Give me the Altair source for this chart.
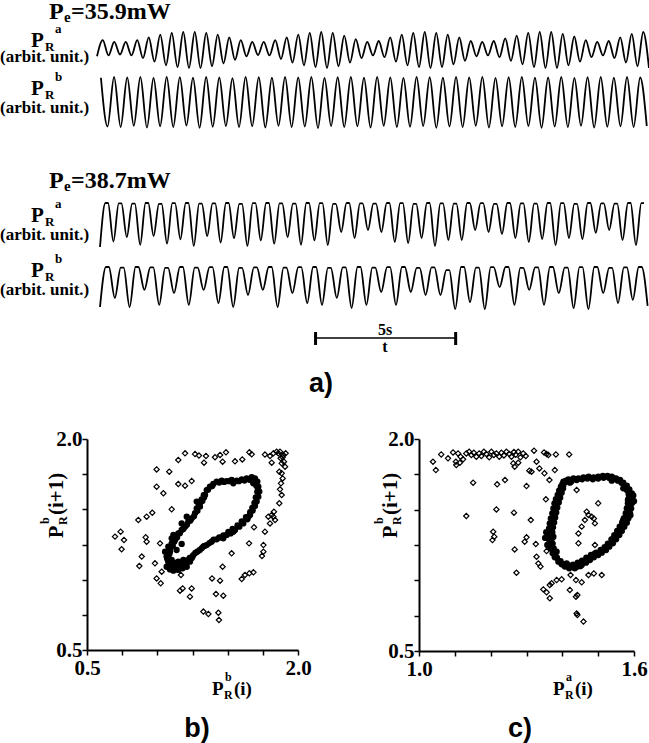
import altair as alt
import pandas as pd

SERIF = "'Liberation Serif', 'Times New Roman', Times, serif"
SANS = "'Liberation Sans', Arial, sans-serif"

# ---------------- time traces (arbitrary units, extrema in order) ----------------
T_END = 19.7  # seconds shown across the trace panel

a359_trough = [-0.35, -0.3, -0.25, -0.3, -0.45, -0.65, -0.85, -0.95, -1.0, -1.0,
               -0.9, -0.75, -0.55, -0.35, -0.28, -0.3, -0.5, -0.7, -0.85, -0.95,
               -1.0, -0.9, -0.7, -0.45, -0.3, -0.4, -0.65, -0.85, -0.95, -1.0,
               -0.95, -0.8, -0.6, -0.35, -0.3, -0.4, -0.6, -0.8, -0.95, -1.0,
               -1.0, -0.85, -0.65, -0.4, -0.3, -0.45, -0.7, -0.9, -1.0]
a359_peak = [0.55, 0.45, 0.45, 0.55, 0.7, 0.85, 0.95, 1.0, 1.0, 0.95,
             0.85, 0.7, 0.55, 0.45, 0.45, 0.55, 0.7, 0.85, 0.95, 1.0,
             0.95, 0.8, 0.6, 0.45, 0.5, 0.7, 0.85, 0.95, 1.0, 0.95,
             0.85, 0.7, 0.5, 0.45, 0.5, 0.65, 0.8, 0.95, 1.0, 1.0,
             0.9, 0.75, 0.55, 0.45, 0.5, 0.7, 0.9, 1.0]

b359_peak = [0.97, 1.0, 0.98, 1.0, 0.96, 1.0, 0.99, 0.97, 1.0, 0.98,
             0.95, 1.0, 0.99, 0.97, 1.0, 0.98, 1.0, 0.96, 0.99, 1.0,
             0.97, 1.0, 0.98, 0.96, 1.0, 0.99, 0.97, 1.0, 0.98, 1.0,
             0.96, 0.99, 1.0, 0.97, 0.98, 1.0, 0.96, 0.99, 1.0, 0.97,
             1.0, 0.98]
b359_trough = [-0.98, -1.0, -0.95, -1.02, -0.97, -1.0, -0.94, -1.03, -0.99, -0.96,
               -1.0, -0.97, -1.02, -0.95, -1.0, -0.98, -1.04, -0.96, -1.0, -0.97,
               -1.02, -0.95, -1.0, -0.99, -0.96, -1.03, -0.98, -1.0, -0.95, -1.02,
               -0.97, -1.0, -0.96, -1.03, -0.98, -1.0, -0.95, -1.02, -0.99, -0.97,
               -1.0, -0.96]

a387_trough = [-1.0, -0.75, -0.55, -0.9, -0.5, -0.85, -0.65, -0.95, -0.5, -0.8,
               -0.6, -0.95, -0.7, -0.85, -0.55, -0.9, -0.7,
               -0.91, -0.32, -0.59, -0.23, -0.32, -0.77, -0.82, -0.59, -0.95, -0.68,
               -0.68, -0.23, -0.32, -0.41, -0.59, -0.77, -0.64, -0.91, -0.59, -0.64,
               -0.36, -0.23, -0.68, -0.91]
a387_peak = [1.0, 0.98, 0.97, 1.0, 0.96, 0.99, 1.0, 0.97, 0.98, 1.0,
             0.96, 0.99, 1.0, 0.98, 0.97, 1.0, 0.99, 0.96, 1.0, 0.98,
             0.97, 1.0, 0.99, 0.96, 1.0, 0.98, 0.97, 1.0, 0.99, 0.96,
             1.0, 0.98, 0.97, 1.0, 0.99, 0.96, 1.0, 0.98, 0.97, 1.0, 0.99]

b387_trough = [-0.95, -0.51, -0.95, -0.12, -0.85, -0.27, -0.85, -0.12, -0.76, -0.95,
               -0.37, -0.12, -0.95, -0.27, -0.76,
               -0.85, -0.51, -1.0, -0.85, -0.22, -0.85, -0.22, -0.37, -0.37, -1.05,
               -0.71, -1.05, 0.02, -0.85, -0.12, -0.85, -0.27, -1.0, -1.05, -0.27,
               -0.76, -0.6, -0.9]
b387_peak = [1.0, 0.97, 1.0, 0.98, 0.96, 1.0, 0.97, 0.99, 1.0, 0.96,
             0.98, 1.0, 0.97, 0.99, 1.0, 0.96, 0.98, 1.0, 0.97, 0.99,
             1.0, 0.96, 0.98, 0.85, 1.0, 0.97, 0.99, 1.0, 0.96, 0.98,
             1.0, 0.97, 0.99, 1.0, 0.96, 0.98, 1.0]

# sampling (start time, half period / period) in seconds
a359_t0, a359_dt = 0.0, 0.2052
b359_t0, b359_dt = 0.14, 0.2347
a387_t0, a387_period = 0.107, 0.4782
b387_t0, b387_period = 0.107, 0.5282
top_start, top_end = 0.4, 0.6  # top part of each 38.7 mW cycle (fraction of period)

bar_start, bar_len = 7.8, 5.0  # "5s" time bar

# ---------------- return maps ----------------
b_loop = [(1.066, 1.092), (1.090, 1.073), (1.114, 1.064), (1.149, 1.069), (1.180, 1.081),
          (1.209, 1.092), (1.232, 1.128), (1.197, 1.116), (1.161, 1.104), (1.126, 1.092),
          (1.078, 1.128), (1.066, 1.164), (1.055, 1.199), (1.078, 1.235), (1.102, 1.258),
          (1.126, 1.282), (1.114, 1.318), (1.149, 1.329), (1.173, 1.353), (1.197, 1.377),
          (1.220, 1.412), (1.244, 1.436), (1.268, 1.472), (1.280, 1.507), (1.303, 1.543),
          (1.315, 1.571), (1.339, 1.602), (1.351, 1.637), (1.374, 1.661), (1.398, 1.680),
          (1.422, 1.697), (1.457, 1.704), (1.493, 1.701), (1.528, 1.709), (1.564, 1.704),
          (1.600, 1.713), (1.635, 1.720), (1.671, 1.728), (1.694, 1.720), (1.711, 1.697),
          (1.718, 1.661), (1.725, 1.626), (1.718, 1.590), (1.706, 1.555), (1.694, 1.524),
          (1.678, 1.491), (1.659, 1.460), (1.640, 1.429), (1.611, 1.400), (1.583, 1.377),
          (1.552, 1.353), (1.521, 1.329), (1.493, 1.318), (1.457, 1.301), (1.422, 1.287),
          (1.386, 1.270), (1.351, 1.246), (1.315, 1.223), (1.284, 1.199), (1.256, 1.175),
          (1.244, 1.152), (1.220, 1.140), (1.185, 1.140), (1.149, 1.128), (1.102, 1.140),
          (1.090, 1.199), (1.137, 1.211), (1.173, 1.254), (1.102, 1.294), (1.303, 1.519),
          (1.332, 1.585), (1.540, 1.341), (1.647, 1.448), (1.280, 1.555), (1.209, 1.448),
          (1.173, 1.400), (1.682, 1.685), (1.540, 1.685), (1.469, 1.294), (1.327, 1.235),
          (1.080, 1.100), (1.100, 1.090), (1.130, 1.080), (1.160, 1.085), (1.190, 1.100),
          (1.070, 1.150), (1.085, 1.180), (1.090, 1.220), (1.110, 1.240), (1.120, 1.270),
          (1.140, 1.300), (1.160, 1.330), (1.185, 1.360), (1.210, 1.390), (1.235, 1.420),
          (1.260, 1.450), (1.285, 1.490), (1.295, 1.530), (1.320, 1.560), (1.330, 1.600),
          (1.360, 1.640), (1.390, 1.665), (1.440, 1.690), (1.475, 1.695), (1.510, 1.700),
          (1.580, 1.700), (1.620, 1.705), (1.655, 1.710), (1.700, 1.700), (1.705, 1.665),
          (1.710, 1.625), (1.700, 1.585), (1.690, 1.545), (1.675, 1.510), (1.660, 1.480),
          (1.630, 1.445), (1.600, 1.415), (1.570, 1.385), (1.535, 1.360), (1.505, 1.340),
          (1.470, 1.315), (1.440, 1.300), (1.400, 1.285), (1.370, 1.260), (1.335, 1.240),
          (1.300, 1.210), (1.270, 1.190), (1.250, 1.165), (1.230, 1.155), (1.200, 1.130),
          (1.170, 1.120), (1.140, 1.115), (1.120, 1.120), (1.090, 1.110), (1.075, 1.140)]
b_open = [(0.699, 1.306), (0.739, 1.341), (0.763, 1.282), (0.746, 1.216), (0.865, 1.424),
          (0.924, 1.448), (0.964, 1.476), (0.917, 1.301), (0.924, 1.270), (0.889, 1.164),
          (0.872, 1.097), (0.995, 1.784), (0.995, 1.661), (1.043, 1.614), (1.085, 1.768),
          (1.102, 1.500), (1.149, 1.851), (1.149, 1.680), (1.197, 1.668), (1.244, 1.701),
          (1.197, 1.898), (1.268, 1.893), (1.296, 1.882), (1.332, 1.832), (1.410, 1.870),
          (1.446, 1.886), (1.488, 1.905), (1.464, 1.839), (1.552, 1.841), (1.604, 1.855),
          (1.654, 1.905), (1.671, 1.891), (1.765, 1.889), (1.813, 1.832), (1.825, 1.898),
          (1.872, 1.910), (1.896, 1.886), (1.908, 1.803), (1.884, 1.756), (1.879, 1.685),
          (1.872, 1.642), (1.867, 1.543), (1.829, 1.483), (1.813, 1.460), (1.789, 1.448),
          (1.837, 1.424), (1.801, 1.400), (1.687, 1.372), (1.765, 1.341), (1.754, 1.246),
          (1.754, 1.199), (1.744, 1.168), (1.652, 1.258), (1.528, 1.187), (1.464, 1.092),
          (1.600, 1.005), (1.623, 1.033), (1.654, 1.045), (1.683, 1.052), (1.389, 1.009),
          (1.446, 0.993), (1.180, 0.938), (1.161, 0.922), (1.244, 0.938), (1.232, 0.879),
          (1.417, 0.898), (1.469, 0.886), (1.327, 0.773), (1.363, 0.756), (1.434, 0.765),
          (1.438, 0.713), (0.995, 1.009), (1.024, 0.974), (1.031, 1.057), (0.983, 1.116),
          (1.019, 1.258), (1.168, 1.033), (1.860, 1.898), (1.891, 1.870), (1.900, 1.839),
          (1.884, 1.827), (1.867, 1.768), (1.891, 1.720), (1.884, 1.602), (1.825, 1.448),
          (1.848, 1.910), (1.912, 1.898), (1.877, 1.863), (1.801, 1.879), (1.346, 1.879)]

c_loop = [(1.403, 1.698), (1.417, 1.714), (1.431, 1.721), (1.445, 1.721), (1.459, 1.729),
          (1.473, 1.733), (1.487, 1.729), (1.500, 1.733), (1.513, 1.738), (1.526, 1.738),
          (1.538, 1.733), (1.550, 1.721), (1.561, 1.710), (1.570, 1.691), (1.580, 1.670),
          (1.587, 1.644), (1.594, 1.615), (1.595, 1.580), (1.594, 1.545), (1.592, 1.509),
          (1.589, 1.474), (1.584, 1.438), (1.580, 1.408), (1.573, 1.380), (1.566, 1.349),
          (1.559, 1.321), (1.550, 1.290), (1.541, 1.262), (1.531, 1.238), (1.522, 1.214),
          (1.510, 1.196), (1.500, 1.179), (1.488, 1.163), (1.477, 1.144), (1.466, 1.125),
          (1.454, 1.108), (1.442, 1.097), (1.431, 1.090), (1.419, 1.085), (1.407, 1.097),
          (1.398, 1.113), (1.389, 1.132), (1.379, 1.163), (1.373, 1.191), (1.367, 1.226),
          (1.363, 1.262), (1.361, 1.297), (1.361, 1.332), (1.363, 1.368), (1.365, 1.403),
          (1.368, 1.438), (1.372, 1.474), (1.375, 1.509), (1.378, 1.545), (1.382, 1.575),
          (1.387, 1.604), (1.391, 1.634), (1.396, 1.662), (1.400, 1.681), (1.421, 1.691),
          (1.538, 1.705), (1.570, 1.651), (1.583, 1.568), (1.570, 1.427), (1.542, 1.297),
          (1.491, 1.191), (1.445, 1.120), (1.412, 1.120), (1.384, 1.203), (1.375, 1.309),
          (1.379, 1.450), (1.389, 1.568), (1.403, 1.674), (1.425, 1.095), (1.435, 1.085),
          (1.450, 1.100),
          (1.410, 1.705), (1.425, 1.700), (1.440, 1.710), (1.455, 1.715), (1.470, 1.720),
          (1.485, 1.715), (1.500, 1.720), (1.515, 1.725), (1.530, 1.725), (1.545, 1.720),
          (1.555, 1.705), (1.565, 1.690), (1.575, 1.665), (1.580, 1.640), (1.585, 1.610),
          (1.585, 1.580), (1.583, 1.545), (1.580, 1.510), (1.577, 1.475), (1.572, 1.440),
          (1.567, 1.410), (1.560, 1.380), (1.553, 1.350), (1.545, 1.320), (1.537, 1.290),
          (1.527, 1.260), (1.518, 1.235), (1.507, 1.215), (1.495, 1.195), (1.480, 1.180),
          (1.467, 1.160), (1.455, 1.140), (1.443, 1.125), (1.430, 1.110), (1.418, 1.105),
          (1.405, 1.115), (1.395, 1.135), (1.385, 1.160), (1.380, 1.190), (1.376, 1.225),
          (1.373, 1.260), (1.372, 1.300), (1.372, 1.340), (1.374, 1.375), (1.377, 1.410),
          (1.380, 1.445), (1.383, 1.480), (1.386, 1.515), (1.390, 1.550), (1.394, 1.585),
          (1.398, 1.620), (1.402, 1.650), (1.352, 1.300), (1.355, 1.340), (1.358, 1.250),
          (1.600, 1.560), (1.598, 1.600), (1.590, 1.460)]
c_open = [(1.039, 1.839), (1.047, 1.780), (1.062, 1.891), (1.081, 1.863), (1.095, 1.905),
          (1.103, 1.839), (1.109, 1.898), (1.116, 1.875), (1.123, 1.856), (1.132, 1.898),
          (1.140, 1.910), (1.146, 1.887), (1.153, 1.903), (1.160, 1.875), (1.168, 1.898),
          (1.174, 1.880), (1.181, 1.910), (1.188, 1.894), (1.196, 1.870), (1.202, 1.910),
          (1.209, 1.887), (1.216, 1.898), (1.224, 1.875), (1.230, 1.903), (1.237, 1.884),
          (1.244, 1.910), (1.252, 1.894), (1.258, 1.875), (1.265, 1.908), (1.270, 1.889),
          (1.277, 1.910), (1.283, 1.870), (1.291, 1.898), (1.298, 1.880), (1.321, 1.917),
          (1.349, 1.905), (1.356, 1.894), (1.361, 1.887), (1.382, 1.891), (1.419, 1.891),
          (1.104, 1.816), (1.114, 1.832), (1.267, 1.804), (1.263, 1.828), (1.277, 1.832),
          (1.328, 1.839), (1.308, 1.776), (1.314, 1.769), (1.336, 1.792), (1.350, 1.757),
          (1.364, 1.710), (1.379, 1.780), (1.151, 1.691), (1.218, 1.679), (1.240, 1.710),
          (1.300, 1.667), (1.354, 1.573), (1.412, 1.698), (1.500, 1.545), (1.132, 1.455),
          (1.216, 1.502), (1.265, 1.479), (1.312, 1.427), (1.207, 1.344), (1.210, 1.309),
          (1.205, 1.285), (1.267, 1.219), (1.295, 1.273), (1.300, 1.304), (1.326, 1.257),
          (1.328, 1.167), (1.333, 1.120), (1.339, 1.097), (1.272, 1.054), (1.356, 1.207),
          (1.440, 1.639), (1.468, 1.486), (1.473, 1.462), (1.482, 1.450), (1.488, 1.438),
          (1.491, 1.403), (1.454, 1.380), (1.445, 1.332), (1.463, 1.427), (1.445, 1.262),
          (1.491, 1.250), (1.473, 1.038), (1.488, 1.049), (1.510, 1.038), (1.423, 1.038),
          (1.438, 1.002), (1.454, 0.986), (1.384, 1.002), (1.398, 1.007), (1.370, 0.979),
          (1.365, 0.967), (1.347, 0.936), (1.356, 0.915), (1.365, 0.873), (1.421, 0.932),
          (1.438, 0.884), (1.442, 0.896), (1.440, 0.766), (1.442, 0.755), (1.459, 0.708)]

b_x_ticks = [0.5, 0.75, 1.0, 1.25, 1.5, 1.75, 2.0]
y_ticks = [0.5, 0.75, 1.0, 1.25, 1.5, 1.75, 2.0]
c_x_ticks = [1.0, 1.1, 1.2, 1.3, 1.4, 1.5, 1.6]


# ---------------- helpers ----------------
def alternate(first, second):
    out = []
    for i in range(max(len(first), len(second))):
        if i < len(first):
            out.append(first[i])
        if i < len(second):
            out.append(second[i])
    return out


def time_scale():
    return alt.Scale(domain=[0, T_END], range=[97, 649], nice=False, zero=False)


def line_chart(ts, vs, y_top, y_bot):
    df = pd.DataFrame({"t": ts, "v": vs})
    return alt.Chart(df).mark_line(color="black", strokeWidth=1.8, interpolate="monotone").encode(
        x=alt.X("t:Q", scale=time_scale(), axis=None),
        y=alt.Y("v:Q", scale=alt.Scale(domain=[-1, 1], range=[y_bot, y_top], nice=False, zero=False), axis=None),
    )


def trace(values, t0, dt, y_top, y_bot):
    return line_chart([t0 + i * dt for i in range(len(values))], values, y_top, y_bot)


def dip_trace(troughs, peaks, t0, period, y_top, y_bot):
    ts, vs = [], []
    for i, tr in enumerate(troughs):
        t = t0 + i * period
        ts.append(t)
        vs.append(tr)
        if i < len(peaks):
            ts += [t + top_start * period, t + top_end * period]
            vs += [peaks[i], peaks[i]]
    return line_chart(ts, vs, y_top, y_bot)


_one = pd.DataFrame({"k": [0]})


def txt(s, x, y, size, font=SERIF, weight="bold", align="left", baseline="alphabetic", angle=0):
    return alt.Chart(_one).mark_text(
        text=s, font=font, fontSize=size, fontWeight=weight, align=align,
        baseline=baseline, angle=angle, color="black"
    ).encode(x=alt.value(x), y=alt.value(y))


AX = dict(title=None, grid=False, domainColor="black", domainWidth=2, tickColor="black",
          tickWidth=1.5, tickSize=5, labelFont=SERIF, labelFontWeight="bold", labelFontSize=21,
          labelColor="black", labelFlush=False, labelOverlap=False, labelBound=False)


def scatter(loop, opn, xdom, xrange, yrange, xticks, xoff, yoff, xexpr):
    xs = alt.Scale(domain=xdom, range=xrange, nice=False, zero=False)
    ys = alt.Scale(domain=[0.5, 2.0], range=yrange, nice=False, zero=False)
    loop_df = pd.DataFrame(loop, columns=["x", "y"])
    open_df = pd.DataFrame(opn, columns=["x", "y"])
    filled = alt.Chart(loop_df).mark_circle(size=40, color="black", opacity=1).encode(
        x=alt.X("x:Q", scale=xs,
                axis=alt.Axis(orient="bottom", offset=yoff, values=xticks, labelExpr=xexpr,
                              labelPadding=2, **AX)),
        y=alt.Y("y:Q", scale=ys,
                axis=alt.Axis(orient="left", offset=xoff, values=y_ticks,
                              labelExpr="datum.value == 0.5 || datum.value == 2 ? format(datum.value, '.1f') : ''",
                              labelPadding=0, **AX)),
    )
    hollow = alt.Chart(open_df).mark_point(shape="diamond", filled=False, size=28, color="black",
                                           strokeWidth=1.2, opacity=1).encode(
        x=alt.X("x:Q", scale=xs, axis=None),
        y=alt.Y("y:Q", scale=ys, axis=None),
    )
    return [filled, hollow]


layers = []

# traces
layers.append(trace(alternate(a359_trough, a359_peak), a359_t0, a359_dt, 32, 68))
layers.append(trace(alternate(b359_peak, b359_trough), b359_t0, b359_dt, 77, 127))
layers.append(dip_trace(a387_trough, a387_peak, a387_t0, a387_period, 203, 247))
layers.append(dip_trace(b387_trough, b387_peak, b387_t0, b387_period, 267, 308))

# time bar
bar_df = pd.DataFrame({"t0": [bar_start], "t1": [bar_start + bar_len]})
layers.append(alt.Chart(bar_df).mark_rule(color="black", strokeWidth=1.5).encode(
    x=alt.X("t0:Q", scale=time_scale(), axis=None), x2="t1:Q", y=alt.value(338)))
cap_df = pd.DataFrame({"t": [bar_start, bar_start + bar_len]})
layers.append(alt.Chart(cap_df).mark_rule(color="black", strokeWidth=3).encode(
    x=alt.X("t:Q", scale=time_scale(), axis=None), y=alt.value(332), y2=alt.value(345)))

# scatter panels
layers += scatter(b_loop, b_open, [0.5, 2.0], [87, 298], [650, 439], b_x_ticks, -87, -93,
                  "datum.value == 0.5 || datum.value == 2 ? format(datum.value, '.1f') : ''")
layers += scatter(c_loop, c_open, [1.0, 1.6], [419, 634], [651, 439], c_x_ticks, -419, -92,
                  "datum.value == 1 || datum.value == 1.6 ? format(datum.value, '.1f') : ''")

# ---------------- texts ----------------
texts = []
for (yb, val) in [(19, "=35.9mW"), (188, "=38.7mW")]:
    texts += [txt("P", 49, yb, 24), txt("e", 64, yb + 3, 15), txt(val, 71, yb, 24)]

for (yb, sup) in [(47, "a"), (95, "b"), (222, "a"), (277, "b")]:
    texts += [txt("P", 31, yb, 21), txt("R", 45, yb + 4, 13), txt(sup, 55, yb - 14, 13)]
for yb in [62, 113, 240, 295]:
    texts.append(txt("(arbit. unit.)", 0, yb, 17))

texts += [txt("5s", 385, 335, 16, align="center"), txt("t", 385, 352, 16, align="center")]
texts.append(txt("a)", 321, 384, 27, font=SANS, align="center", baseline="middle"))
texts.append(txt("b)", 197, 729, 27, font=SANS, align="center", baseline="middle"))
texts.append(txt("c)", 520, 729, 27, font=SANS, align="center", baseline="middle"))

# x titles
for (x0, sup) in [(212, "b"), (553, "a")]:
    texts += [txt("P", x0, 695, 19), txt("R", x0 + 12, 699, 12), txt(sup, x0 + 13, 681, 12),
              txt("(i)", x0 + 22, 695, 19)]
# y titles (rotated)
for xb in [63, 397]:
    texts += [txt("P", xb, 538, 20, angle=270), txt("R", xb + 4, 525, 12, angle=270),
              txt("b", xb - 14, 524, 12, angle=270), txt("(i+1)", xb, 515, 21, angle=270)]

chart = alt.layer(*layers, *texts).resolve_scale(x="independent", y="independent").properties(
    width=649, height=743, autosize=alt.AutoSizeParams(type="none"), padding=0,
    background="white"
).configure_view(stroke=None)

chart.save("out.html", embed_options={"renderer": "svg", "actions": False})
